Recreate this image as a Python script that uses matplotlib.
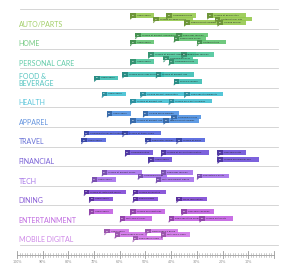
import numpy as np
import matplotlib
matplotlib.use("Agg")
import matplotlib.pyplot as plt
from matplotlib.patches import Rectangle, Polygon
from matplotlib.colors import to_rgb

# ---------------- data ----------------
categories = ["AUTO/PARTS", "HOME", "PERSONAL CARE", "FOOD &\nBEVERAGE", "HEALTH",
              "APPAREL", "TRAVEL", "FINANCIAL", "TECH", "DINING",
              "ENTERTAINMENT", "MOBILE DIGITAL"]

# per category: share of shoppers (%), tier (0 low, 1 mid, 2 high), activity label
auto_vals = [56, 42, 26, 47, 35, 23, 22]
auto_tier = [2, 2, 2, 1, 0, 1, 0]
auto_text = ["Used search", "Compared prices", "Looked at dealer sites",
             "Looked for deals online", "Read product reviews",
             "Visited retailer site", "Viewed pricing"]

home_vals = [54, 56, 38, 39, 30]
home_tier = [2, 0, 2, 1, 0]
home_text = ["Looked at product information", "Used search", "Read user reviews",
             "Researched online", "Visited a store"]

care_vals = [49, 56, 36, 43, 41]
care_tier = [2, 0, 2, 1, 0]
care_text = ["Looked at product information", "Used search", "Read user reviews",
             "Compared brands", "Compared prices"]

food_vals = [59, 70, 46, 39]
food_tier = [2, 1, 2, 0]
food_text = ["Looked up recipes online", "Used search", "Looked at product info",
             "Found a coupon"]

health_vals = [67, 56, 52, 35, 41]
health_tier = [2, 0, 2, 2, 0]
health_text = ["Used search", "Looked at product info", "Viewed product information",
               "Read about ingredients", "Looked for a doctor nearby"]

apparel_vals = [65, 56, 51, 40, 43]
apparel_tier = [2, 0, 2, 1, 0]
apparel_text = ["Used search", "Looked at product info", "Viewed brand website",
                "Compared prices", "Read product reviews"]

travel_vals = [74, 75, 59, 50, 38]
travel_tier = [2, 0, 2, 0, 0]
travel_text = ["Compared travel destinations", "Used search", "Looked at travel deals",
               "Read hotel reviews", "Looked at maps"]

fin_vals = [58, 49, 44, 22, 22]
fin_tier = [2, 0, 2, 2, 0]
fin_text = ["Compared rates", "Used search", "Looked at account information",
            "Checked a rate", "Looked for financial app"]

tech_vals = [67, 71, 53, 44, 46, 30]
tech_tier = [2, 0, 1, 2, 0, 1]
tech_text = ["Looked at product specs", "Used search", "Compared prices",
             "Read user reviews", "Watched product videos", "Requested a quote"]

dining_vals = [74, 72, 55, 55, 38]
dining_tier = [2, 0, 2, 0, 0]
dining_text = ["Looked at restaurant menu", "Used search", "Looked up location",
               "Read reviews", "Made reservation"]

ent_vals = [72, 56, 60, 36, 41, 29]
ent_tier = [2, 2, 0, 2, 0, 0]
ent_text = ["Used search", "Looked up showtimes", "Watched a trailer",
            "Checked schedules", "Read about the show", "Looked for tickets"]

mobile_vals = [66, 62, 50, 55, 44]
mobile_tier = [2, 1, 2, 0, 1]
mobile_text = ["Used search", "Downloaded an app", "Downloaded a game",
               "Read app reviews", "Watched a video"]

all_vals = [auto_vals, home_vals, care_vals, food_vals, health_vals, apparel_vals,
            travel_vals, fin_vals, tech_vals, dining_vals, ent_vals, mobile_vals]
all_tier = [auto_tier, home_tier, care_tier, food_tier, health_tier, apparel_tier,
            travel_tier, fin_tier, tech_tier, dining_tier, ent_tier, mobile_tier]
all_text = [auto_text, home_text, care_text, food_text, health_text, apparel_text,
            travel_text, fin_text, tech_text, dining_text, ent_text, mobile_text]

row_colors = ["#93c84a", "#5cc26c", "#48c498", "#36bcb2", "#3cbfd2", "#4a8ee2",
              "#4c5edc", "#6a4cd8", "#a36ceb", "#7b42d4", "#c25ce2", "#d072e8"]
label_colors = ["#a2cf68", "#74c982", "#62cba8", "#55c4c0", "#5cc6da", "#6494de",
                "#6670d6", "#7a62d6", "#a676e8", "#8a5ed6", "#c06ae0", "#cf88e8"]

tick_vals = np.arange(100, 0, -10)

# ---------------- layout (pixel units in y) ----------------
W, H = 300, 273
px = 2.57            # pixels per percentage point
x_left = 17          # pixel where 100% sits
first_line = 29
row_step = 19.6
tier_off = [6.5, 10.0, 13.5]
flag_h = 4.5


def p2x(p):
    return 100 - (p - x_left) / px


def darker(c, f=0.75):
    r, g, b = to_rgb(c)
    return (r * f, g * f, b * f)


fig = plt.figure(figsize=(W / 100, H / 100), dpi=100)
ax = fig.add_axes([0, 0, 1, 1])
ax.set_xlim(p2x(0), p2x(W))
ax.set_ylim(H, 0)
ax.axis("off")

# top rule
ax.plot([p2x(20), p2x(278)], [9, 9], color="#cfcfcf", lw=0.6)

for i, cat in enumerate(categories):
    ly = first_line + i * row_step
    ax.plot([p2x(20), p2x(278)], [ly, ly], color="#cfcfcf", lw=0.6, zorder=1)
    ax.text(p2x(18.5), ly - 1.2, cat, fontsize=5.0, family="Lato",
            color=label_colors[i], ha="left", va="bottom", linespacing=1.0)

    col = row_colors[i]
    dcol = darker(col)
    for v, t, txt in zip(all_vals[i], all_tier[i], all_text[i]):
        yc = ly - tier_off[t]
        y0 = yc - flag_h / 2
        w = (10 + 1.3 * len(txt)) / px
        nb = 5.5 / px
        ax.add_patch(Rectangle((v - w, y0), w, flag_h, facecolor=col,
                               edgecolor="none", alpha=0.88, zorder=3))
        ax.add_patch(Rectangle((v - nb, y0), nb, flag_h, facecolor=dcol,
                               edgecolor="none", zorder=4))
        ax.add_patch(Polygon([(v, y0 + flag_h), (v, y0 + flag_h + 2.0),
                              (v - 0.9, y0 + flag_h)], closed=True,
                             facecolor=dcol, edgecolor="none", zorder=4))
        ax.text(v - nb / 2, yc, str(v), fontsize=1.6, color="white",
                ha="center", va="center", zorder=5)
        ax.text(v - nb - 0.4, yc, txt, fontsize=1.6, color="#2a2a2a",
                ha="left", va="center", zorder=5)

# percentage axis
ay = 255
ax.plot([100, 0], [ay, ay], color="#9a9a9a", lw=0.6)
for m in range(0, 101):
    if m % 10 == 0:
        ax.plot([m, m], [ay - 4.5, ay + 3], color="#9a9a9a", lw=0.6)
    else:
        ax.plot([m, m], [ay - 2, ay + 2], color="#a8a8a8", lw=0.4)
for tv in tick_vals:
    ax.text(tv, 262, f"{tv}%", fontsize=2.4, color="#8a8a8a",
            ha="center", va="center")

fig.savefig("out.png", dpi=100)
